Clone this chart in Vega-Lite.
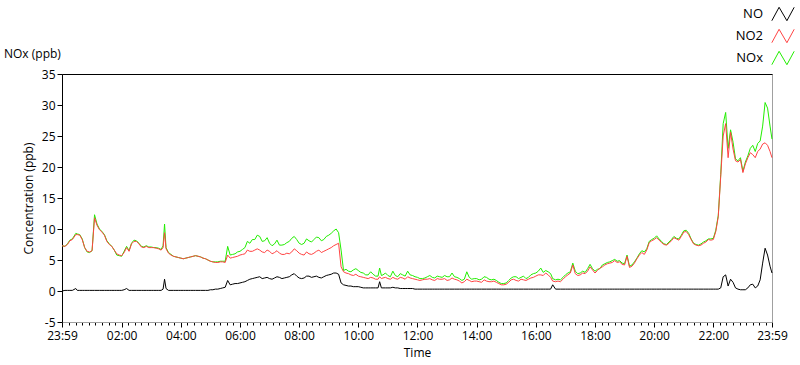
{
  "$schema": "https://vega.github.io/schema/vega-lite/v6.json",
  "width": 710,
  "height": 248,
  "autosize": {"type": "none"},
  "padding": {"left": 62, "top": 74, "right": 28, "bottom": 43},
  "background": "white",
  "title": {"text": "NOx (ppb)", "anchor": "start", "frame": "group", "dx": -58, "offset": -64, "fontSize": 12, "fontWeight": "normal", "font": "Open Sans", "color": "#000000"},
  "config": {
    "view": {"stroke": "#a0a0a0", "strokeWidth": 1},
    "axis": {"labelFont": "Open Sans", "labelFontSize": 12, "labelColor": "#000000", "titleFont": "Open Sans", "titleFontSize": 12, "titleFontWeight": "normal", "titleColor": "#000000", "grid": false, "tickColor": "#000000"},
    "axisY": {"labelOverlap": false, "labelBound": false},
    "legend": {"labelFont": "Open Sans", "labelFontSize": 13, "labelColor": "#000000"}
  },
  "data": {"values": [
    {"t": -0.0167, "NO": 0.0, "NO2": 7.3, "NOx": 7.3},
    {"t": 0.083, "NO": 0.1, "NO2": 7.2, "NOx": 7.2},
    {"t": 0.167, "NO": 0.1, "NO2": 7.5, "NOx": 7.6},
    {"t": 0.25, "NO": 0.1, "NO2": 8.1, "NOx": 8.2},
    {"t": 0.333, "NO": 0.1, "NO2": 8.3, "NOx": 8.4},
    {"t": 0.45, "NO": 0.4, "NO2": 9.1, "NOx": 9.3},
    {"t": 0.5, "NO": 0.1, "NO2": 9.1, "NOx": 9.2},
    {"t": 0.583, "NO": 0.1, "NO2": 9.0, "NOx": 9.1},
    {"t": 0.667, "NO": 0.1, "NO2": 8.3, "NOx": 8.4},
    {"t": 0.75, "NO": 0.1, "NO2": 7.0, "NOx": 7.0},
    {"t": 0.833, "NO": 0.1, "NO2": 6.4, "NOx": 6.3},
    {"t": 0.917, "NO": 0.1, "NO2": 6.3, "NOx": 6.2},
    {"t": 1.0, "NO": 0.1, "NO2": 6.5, "NOx": 6.5},
    {"t": 1.083, "NO": 0.1, "NO2": 11.8, "NOx": 12.3},
    {"t": 1.167, "NO": 0.1, "NO2": 10.6, "NOx": 10.8},
    {"t": 1.25, "NO": 0.1, "NO2": 9.9, "NOx": 10.0},
    {"t": 1.333, "NO": 0.1, "NO2": 9.5, "NOx": 9.6},
    {"t": 1.417, "NO": 0.1, "NO2": 9.0, "NOx": 9.1},
    {"t": 1.5, "NO": 0.1, "NO2": 8.0, "NOx": 8.1},
    {"t": 1.583, "NO": 0.1, "NO2": 7.5, "NOx": 7.6},
    {"t": 1.667, "NO": 0.1, "NO2": 7.2, "NOx": 7.2},
    {"t": 1.75, "NO": 0.1, "NO2": 6.6, "NOx": 6.6},
    {"t": 1.833, "NO": 0.1, "NO2": 6.0, "NOx": 5.8},
    {"t": 1.917, "NO": 0.1, "NO2": 5.8, "NOx": 5.7},
    {"t": 2.0, "NO": 0.1, "NO2": 5.7, "NOx": 5.6},
    {"t": 2.083, "NO": 0.2, "NO2": 6.2, "NOx": 6.4},
    {"t": 2.167, "NO": 0.4, "NO2": 7.0, "NOx": 7.2},
    {"t": 2.25, "NO": 0.1, "NO2": 6.4, "NOx": 6.5},
    {"t": 2.333, "NO": 0.1, "NO2": 7.6, "NOx": 7.7},
    {"t": 2.417, "NO": 0.1, "NO2": 8.0, "NOx": 8.2},
    {"t": 2.5, "NO": 0.1, "NO2": 8.0, "NOx": 8.1},
    {"t": 2.583, "NO": 0.1, "NO2": 7.6, "NOx": 7.7},
    {"t": 2.667, "NO": 0.1, "NO2": 7.1, "NOx": 7.2},
    {"t": 2.75, "NO": 0.1, "NO2": 7.0, "NOx": 7.1},
    {"t": 2.833, "NO": 0.1, "NO2": 7.2, "NOx": 7.3},
    {"t": 2.917, "NO": 0.1, "NO2": 7.0, "NOx": 7.1},
    {"t": 3.0, "NO": 0.1, "NO2": 7.0, "NOx": 7.1},
    {"t": 3.083, "NO": 0.1, "NO2": 7.0, "NOx": 7.0},
    {"t": 3.167, "NO": 0.1, "NO2": 6.9, "NOx": 7.0},
    {"t": 3.25, "NO": 0.1, "NO2": 6.8, "NOx": 6.9},
    {"t": 3.333, "NO": 0.1, "NO2": 6.6, "NOx": 6.7},
    {"t": 3.4, "NO": 0.3, "NO2": 7.0, "NOx": 7.3},
    {"t": 3.45, "NO": 1.9, "NO2": 9.4, "NOx": 10.8},
    {"t": 3.5, "NO": 0.4, "NO2": 6.8, "NOx": 7.0},
    {"t": 3.583, "NO": 0.1, "NO2": 6.1, "NOx": 6.2},
    {"t": 3.667, "NO": 0.1, "NO2": 5.8, "NOx": 5.9},
    {"t": 3.75, "NO": 0.1, "NO2": 5.6, "NOx": 5.6},
    {"t": 3.833, "NO": 0.1, "NO2": 5.5, "NOx": 5.5},
    {"t": 3.917, "NO": 0.1, "NO2": 5.4, "NOx": 5.4},
    {"t": 4.0, "NO": 0.1, "NO2": 5.3, "NOx": 5.3},
    {"t": 4.083, "NO": 0.1, "NO2": 5.2, "NOx": 5.2},
    {"t": 4.167, "NO": 0.1, "NO2": 5.3, "NOx": 5.3},
    {"t": 4.25, "NO": 0.1, "NO2": 5.4, "NOx": 5.4},
    {"t": 4.333, "NO": 0.1, "NO2": 5.5, "NOx": 5.5},
    {"t": 4.417, "NO": 0.1, "NO2": 5.6, "NOx": 5.6},
    {"t": 4.5, "NO": 0.1, "NO2": 5.7, "NOx": 5.7},
    {"t": 4.583, "NO": 0.1, "NO2": 5.6, "NOx": 5.6},
    {"t": 4.667, "NO": 0.1, "NO2": 5.5, "NOx": 5.5},
    {"t": 4.75, "NO": 0.1, "NO2": 5.3, "NOx": 5.3},
    {"t": 4.833, "NO": 0.1, "NO2": 5.2, "NOx": 5.2},
    {"t": 4.917, "NO": 0.1, "NO2": 5.0, "NOx": 5.0},
    {"t": 5.0, "NO": 0.2, "NO2": 4.8, "NOx": 4.8},
    {"t": 5.083, "NO": 0.2, "NO2": 4.7, "NOx": 4.7},
    {"t": 5.167, "NO": 0.3, "NO2": 4.6, "NOx": 4.7},
    {"t": 5.25, "NO": 0.3, "NO2": 4.6, "NOx": 4.7},
    {"t": 5.333, "NO": 0.4, "NO2": 4.7, "NOx": 4.8},
    {"t": 5.417, "NO": 0.5, "NO2": 4.7, "NOx": 4.8},
    {"t": 5.5, "NO": 0.6, "NO2": 4.6, "NOx": 4.8},
    {"t": 5.583, "NO": 1.7, "NO2": 5.8, "NOx": 7.2},
    {"t": 5.667, "NO": 1.0, "NO2": 5.3, "NOx": 5.8},
    {"t": 5.75, "NO": 1.1, "NO2": 5.4, "NOx": 5.9},
    {"t": 5.833, "NO": 1.2, "NO2": 5.5, "NOx": 6.0},
    {"t": 5.917, "NO": 1.2, "NO2": 5.6, "NOx": 6.3},
    {"t": 6.0, "NO": 1.3, "NO2": 5.8, "NOx": 6.4},
    {"t": 6.083, "NO": 1.4, "NO2": 5.9, "NOx": 6.7},
    {"t": 6.167, "NO": 1.5, "NO2": 6.0, "NOx": 7.0},
    {"t": 6.25, "NO": 1.7, "NO2": 6.6, "NOx": 8.0},
    {"t": 6.333, "NO": 1.9, "NO2": 6.4, "NOx": 7.7},
    {"t": 6.417, "NO": 2.0, "NO2": 6.4, "NOx": 8.3},
    {"t": 6.5, "NO": 2.1, "NO2": 6.6, "NOx": 8.3},
    {"t": 6.583, "NO": 2.2, "NO2": 6.8, "NOx": 9.0},
    {"t": 6.667, "NO": 2.3, "NO2": 6.6, "NOx": 8.8},
    {"t": 6.75, "NO": 2.0, "NO2": 6.3, "NOx": 8.0},
    {"t": 6.833, "NO": 2.1, "NO2": 6.2, "NOx": 8.1},
    {"t": 6.917, "NO": 2.2, "NO2": 6.6, "NOx": 8.6},
    {"t": 7.0, "NO": 2.0, "NO2": 6.4, "NOx": 7.7},
    {"t": 7.083, "NO": 1.9, "NO2": 6.0, "NOx": 7.3},
    {"t": 7.167, "NO": 2.1, "NO2": 6.2, "NOx": 7.6},
    {"t": 7.25, "NO": 2.3, "NO2": 6.5, "NOx": 8.2},
    {"t": 7.333, "NO": 2.2, "NO2": 6.1, "NOx": 7.4},
    {"t": 7.417, "NO": 2.0, "NO2": 5.9, "NOx": 7.4},
    {"t": 7.5, "NO": 2.1, "NO2": 5.9, "NOx": 7.5},
    {"t": 7.583, "NO": 2.2, "NO2": 6.1, "NOx": 7.8},
    {"t": 7.667, "NO": 2.3, "NO2": 6.0, "NOx": 8.0},
    {"t": 7.75, "NO": 2.6, "NO2": 6.3, "NOx": 8.5},
    {"t": 7.833, "NO": 2.8, "NO2": 6.8, "NOx": 8.8},
    {"t": 7.917, "NO": 2.4, "NO2": 6.5, "NOx": 8.3},
    {"t": 8.0, "NO": 2.1, "NO2": 6.1, "NOx": 7.7},
    {"t": 8.083, "NO": 2.0, "NO2": 5.9, "NOx": 7.5},
    {"t": 8.167, "NO": 2.1, "NO2": 5.8, "NOx": 7.7},
    {"t": 8.25, "NO": 2.4, "NO2": 6.3, "NOx": 8.4},
    {"t": 8.333, "NO": 2.4, "NO2": 6.0, "NOx": 8.1},
    {"t": 8.417, "NO": 2.2, "NO2": 5.9, "NOx": 7.9},
    {"t": 8.5, "NO": 2.3, "NO2": 6.1, "NOx": 8.3},
    {"t": 8.583, "NO": 2.4, "NO2": 6.4, "NOx": 8.7},
    {"t": 8.667, "NO": 2.2, "NO2": 6.6, "NOx": 8.6},
    {"t": 8.75, "NO": 2.1, "NO2": 6.2, "NOx": 8.1},
    {"t": 8.833, "NO": 2.3, "NO2": 6.4, "NOx": 8.3},
    {"t": 8.917, "NO": 2.5, "NO2": 6.6, "NOx": 8.8},
    {"t": 9.0, "NO": 2.6, "NO2": 6.8, "NOx": 9.0},
    {"t": 9.083, "NO": 2.7, "NO2": 7.0, "NOx": 9.3},
    {"t": 9.167, "NO": 2.9, "NO2": 7.3, "NOx": 9.7},
    {"t": 9.25, "NO": 2.9, "NO2": 7.5, "NOx": 10.0},
    {"t": 9.333, "NO": 2.7, "NO2": 7.7, "NOx": 9.4},
    {"t": 9.417, "NO": 1.3, "NO2": 3.9, "NOx": 6.6},
    {"t": 9.5, "NO": 1.0, "NO2": 3.1, "NOx": 3.3},
    {"t": 9.583, "NO": 0.9, "NO2": 2.9, "NOx": 3.5},
    {"t": 9.667, "NO": 0.8, "NO2": 2.8, "NOx": 3.2},
    {"t": 9.75, "NO": 0.8, "NO2": 2.6, "NOx": 3.1},
    {"t": 9.833, "NO": 0.7, "NO2": 2.5, "NOx": 3.4},
    {"t": 9.917, "NO": 0.7, "NO2": 2.7, "NOx": 3.6},
    {"t": 10.0, "NO": 0.7, "NO2": 2.4, "NOx": 3.3},
    {"t": 10.083, "NO": 0.6, "NO2": 2.3, "NOx": 3.0},
    {"t": 10.167, "NO": 0.5, "NO2": 2.2, "NOx": 2.9},
    {"t": 10.25, "NO": 0.5, "NO2": 2.1, "NOx": 2.6},
    {"t": 10.333, "NO": 0.5, "NO2": 2.0, "NOx": 2.6},
    {"t": 10.417, "NO": 0.5, "NO2": 2.2, "NOx": 3.1},
    {"t": 10.5, "NO": 0.5, "NO2": 2.1, "NOx": 2.7},
    {"t": 10.583, "NO": 0.5, "NO2": 1.9, "NOx": 2.4},
    {"t": 10.667, "NO": 0.5, "NO2": 1.9, "NOx": 2.4},
    {"t": 10.72, "NO": 1.5, "NO2": 2.3, "NOx": 3.7},
    {"t": 10.78, "NO": 0.5, "NO2": 2.0, "NOx": 2.5},
    {"t": 10.833, "NO": 0.5, "NO2": 2.1, "NOx": 2.6},
    {"t": 10.917, "NO": 0.5, "NO2": 2.2, "NOx": 2.9},
    {"t": 11.0, "NO": 0.5, "NO2": 2.0, "NOx": 2.5},
    {"t": 11.083, "NO": 0.5, "NO2": 1.9, "NOx": 2.3},
    {"t": 11.167, "NO": 0.6, "NO2": 2.2, "NOx": 3.2},
    {"t": 11.25, "NO": 0.5, "NO2": 2.0, "NOx": 2.5},
    {"t": 11.333, "NO": 0.5, "NO2": 1.9, "NOx": 2.3},
    {"t": 11.417, "NO": 0.4, "NO2": 2.2, "NOx": 2.8},
    {"t": 11.5, "NO": 0.4, "NO2": 2.1, "NOx": 2.6},
    {"t": 11.583, "NO": 0.4, "NO2": 1.9, "NOx": 2.4},
    {"t": 11.667, "NO": 0.4, "NO2": 2.3, "NOx": 3.2},
    {"t": 11.75, "NO": 0.4, "NO2": 2.1, "NOx": 2.6},
    {"t": 11.833, "NO": 0.4, "NO2": 2.0, "NOx": 2.5},
    {"t": 11.917, "NO": 0.3, "NO2": 1.9, "NOx": 2.3},
    {"t": 12.0, "NO": 0.3, "NO2": 1.8, "NOx": 2.2},
    {"t": 12.083, "NO": 0.3, "NO2": 1.7, "NOx": 2.0},
    {"t": 12.167, "NO": 0.3, "NO2": 1.8, "NOx": 2.0},
    {"t": 12.25, "NO": 0.3, "NO2": 1.9, "NOx": 2.1},
    {"t": 12.333, "NO": 0.3, "NO2": 1.9, "NOx": 2.3},
    {"t": 12.417, "NO": 0.3, "NO2": 2.0, "NOx": 2.5},
    {"t": 12.5, "NO": 0.3, "NO2": 1.8, "NOx": 2.2},
    {"t": 12.583, "NO": 0.3, "NO2": 1.7, "NOx": 2.1},
    {"t": 12.667, "NO": 0.3, "NO2": 2.0, "NOx": 2.4},
    {"t": 12.75, "NO": 0.3, "NO2": 1.9, "NOx": 2.3},
    {"t": 12.833, "NO": 0.3, "NO2": 1.9, "NOx": 2.2},
    {"t": 12.917, "NO": 0.3, "NO2": 2.0, "NOx": 2.5},
    {"t": 13.0, "NO": 0.3, "NO2": 1.7, "NOx": 2.3},
    {"t": 13.083, "NO": 0.3, "NO2": 1.8, "NOx": 2.3},
    {"t": 13.167, "NO": 0.3, "NO2": 2.1, "NOx": 2.9},
    {"t": 13.25, "NO": 0.3, "NO2": 1.9, "NOx": 2.3},
    {"t": 13.333, "NO": 0.3, "NO2": 1.8, "NOx": 2.2},
    {"t": 13.417, "NO": 0.3, "NO2": 1.6, "NOx": 2.0},
    {"t": 13.5, "NO": 0.3, "NO2": 1.3, "NOx": 1.7},
    {"t": 13.583, "NO": 0.3, "NO2": 1.5, "NOx": 1.9},
    {"t": 13.667, "NO": 0.3, "NO2": 1.9, "NOx": 3.1},
    {"t": 13.75, "NO": 0.3, "NO2": 1.7, "NOx": 2.2},
    {"t": 13.833, "NO": 0.3, "NO2": 1.5, "NOx": 1.9},
    {"t": 13.917, "NO": 0.3, "NO2": 1.6, "NOx": 2.0},
    {"t": 14.0, "NO": 0.3, "NO2": 1.6, "NOx": 2.0},
    {"t": 14.083, "NO": 0.3, "NO2": 1.5, "NOx": 1.8},
    {"t": 14.167, "NO": 0.3, "NO2": 1.4, "NOx": 1.9},
    {"t": 14.25, "NO": 0.3, "NO2": 1.8, "NOx": 2.3},
    {"t": 14.333, "NO": 0.3, "NO2": 1.6, "NOx": 2.2},
    {"t": 14.417, "NO": 0.3, "NO2": 1.5, "NOx": 1.9},
    {"t": 14.5, "NO": 0.3, "NO2": 1.5, "NOx": 1.8},
    {"t": 14.583, "NO": 0.3, "NO2": 1.6, "NOx": 1.9},
    {"t": 14.667, "NO": 0.3, "NO2": 1.4, "NOx": 1.7},
    {"t": 14.75, "NO": 0.3, "NO2": 1.2, "NOx": 1.4},
    {"t": 14.833, "NO": 0.3, "NO2": 1.0, "NOx": 1.2},
    {"t": 14.917, "NO": 0.3, "NO2": 1.0, "NOx": 1.2},
    {"t": 15.0, "NO": 0.3, "NO2": 1.1, "NOx": 1.3},
    {"t": 15.083, "NO": 0.3, "NO2": 1.4, "NOx": 1.7},
    {"t": 15.167, "NO": 0.3, "NO2": 1.8, "NOx": 2.1},
    {"t": 15.25, "NO": 0.3, "NO2": 1.9, "NOx": 2.3},
    {"t": 15.333, "NO": 0.3, "NO2": 1.7, "NOx": 2.3},
    {"t": 15.417, "NO": 0.3, "NO2": 1.6, "NOx": 2.0},
    {"t": 15.5, "NO": 0.3, "NO2": 1.9, "NOx": 2.2},
    {"t": 15.583, "NO": 0.3, "NO2": 1.8, "NOx": 2.4},
    {"t": 15.667, "NO": 0.3, "NO2": 1.7, "NOx": 2.0},
    {"t": 15.75, "NO": 0.3, "NO2": 1.9, "NOx": 2.2},
    {"t": 15.833, "NO": 0.3, "NO2": 2.1, "NOx": 2.6},
    {"t": 15.917, "NO": 0.3, "NO2": 2.2, "NOx": 2.8},
    {"t": 16.0, "NO": 0.3, "NO2": 2.4, "NOx": 2.9},
    {"t": 16.083, "NO": 0.3, "NO2": 2.6, "NOx": 3.2},
    {"t": 16.167, "NO": 0.3, "NO2": 2.6, "NOx": 3.7},
    {"t": 16.25, "NO": 0.3, "NO2": 2.5, "NOx": 3.0},
    {"t": 16.333, "NO": 0.3, "NO2": 2.9, "NOx": 3.3},
    {"t": 16.417, "NO": 0.3, "NO2": 2.6, "NOx": 3.1},
    {"t": 16.5, "NO": 0.3, "NO2": 2.2, "NOx": 2.8},
    {"t": 16.57, "NO": 1.0, "NO2": 1.6, "NOx": 2.0},
    {"t": 16.667, "NO": 0.3, "NO2": 1.5, "NOx": 1.8},
    {"t": 16.75, "NO": 0.3, "NO2": 1.6, "NOx": 1.9},
    {"t": 16.833, "NO": 0.3, "NO2": 1.5, "NOx": 1.8},
    {"t": 16.917, "NO": 0.3, "NO2": 1.9, "NOx": 2.2},
    {"t": 17.0, "NO": 0.3, "NO2": 2.3, "NOx": 2.6},
    {"t": 17.083, "NO": 0.3, "NO2": 2.6, "NOx": 2.9},
    {"t": 17.167, "NO": 0.3, "NO2": 2.9, "NOx": 3.1},
    {"t": 17.25, "NO": 0.3, "NO2": 4.2, "NOx": 4.5},
    {"t": 17.333, "NO": 0.3, "NO2": 2.8, "NOx": 3.2},
    {"t": 17.417, "NO": 0.3, "NO2": 2.5, "NOx": 2.8},
    {"t": 17.5, "NO": 0.3, "NO2": 2.6, "NOx": 2.9},
    {"t": 17.583, "NO": 0.3, "NO2": 2.9, "NOx": 3.2},
    {"t": 17.667, "NO": 0.3, "NO2": 2.8, "NOx": 3.0},
    {"t": 17.75, "NO": 0.3, "NO2": 3.2, "NOx": 3.6},
    {"t": 17.833, "NO": 0.3, "NO2": 3.9, "NOx": 4.3},
    {"t": 17.917, "NO": 0.3, "NO2": 3.4, "NOx": 3.6},
    {"t": 18.0, "NO": 0.3, "NO2": 2.9, "NOx": 3.2},
    {"t": 18.083, "NO": 0.3, "NO2": 3.3, "NOx": 3.5},
    {"t": 18.167, "NO": 0.3, "NO2": 3.7, "NOx": 3.6},
    {"t": 18.25, "NO": 0.3, "NO2": 3.9, "NOx": 4.2},
    {"t": 18.333, "NO": 0.3, "NO2": 4.2, "NOx": 4.4},
    {"t": 18.417, "NO": 0.3, "NO2": 4.4, "NOx": 4.6},
    {"t": 18.5, "NO": 0.3, "NO2": 4.5, "NOx": 4.7},
    {"t": 18.583, "NO": 0.3, "NO2": 4.6, "NOx": 4.9},
    {"t": 18.667, "NO": 0.3, "NO2": 4.9, "NOx": 5.1},
    {"t": 18.75, "NO": 0.3, "NO2": 4.6, "NOx": 4.8},
    {"t": 18.833, "NO": 0.3, "NO2": 4.7, "NOx": 4.9},
    {"t": 18.917, "NO": 0.3, "NO2": 4.3, "NOx": 4.5},
    {"t": 19.0, "NO": 0.3, "NO2": 4.2, "NOx": 4.4},
    {"t": 19.083, "NO": 0.3, "NO2": 5.6, "NOx": 5.8},
    {"t": 19.167, "NO": 0.3, "NO2": 3.8, "NOx": 4.0},
    {"t": 19.25, "NO": 0.3, "NO2": 4.0, "NOx": 4.2},
    {"t": 19.333, "NO": 0.3, "NO2": 4.5, "NOx": 4.7},
    {"t": 19.417, "NO": 0.3, "NO2": 5.2, "NOx": 5.3},
    {"t": 19.5, "NO": 0.3, "NO2": 5.8, "NOx": 6.0},
    {"t": 19.583, "NO": 0.3, "NO2": 6.2, "NOx": 6.5},
    {"t": 19.667, "NO": 0.3, "NO2": 5.9, "NOx": 6.3},
    {"t": 19.75, "NO": 0.3, "NO2": 6.6, "NOx": 6.8},
    {"t": 19.833, "NO": 0.3, "NO2": 7.8, "NOx": 8.0},
    {"t": 19.917, "NO": 0.3, "NO2": 8.1, "NOx": 8.3},
    {"t": 20.0, "NO": 0.3, "NO2": 8.3, "NOx": 8.5},
    {"t": 20.083, "NO": 0.3, "NO2": 8.6, "NOx": 8.9},
    {"t": 20.167, "NO": 0.3, "NO2": 8.2, "NOx": 8.4},
    {"t": 20.25, "NO": 0.3, "NO2": 7.8, "NOx": 8.0},
    {"t": 20.333, "NO": 0.3, "NO2": 7.5, "NOx": 7.6},
    {"t": 20.417, "NO": 0.3, "NO2": 7.4, "NOx": 7.5},
    {"t": 20.5, "NO": 0.3, "NO2": 7.7, "NOx": 7.9},
    {"t": 20.583, "NO": 0.3, "NO2": 8.1, "NOx": 8.3},
    {"t": 20.667, "NO": 0.3, "NO2": 8.6, "NOx": 8.8},
    {"t": 20.75, "NO": 0.3, "NO2": 8.4, "NOx": 8.5},
    {"t": 20.833, "NO": 0.3, "NO2": 8.2, "NOx": 8.4},
    {"t": 20.917, "NO": 0.3, "NO2": 8.8, "NOx": 9.0},
    {"t": 21.0, "NO": 0.3, "NO2": 9.5, "NOx": 9.7},
    {"t": 21.083, "NO": 0.3, "NO2": 9.6, "NOx": 9.8},
    {"t": 21.167, "NO": 0.3, "NO2": 9.1, "NOx": 9.3},
    {"t": 21.25, "NO": 0.3, "NO2": 8.3, "NOx": 8.4},
    {"t": 21.333, "NO": 0.3, "NO2": 7.6, "NOx": 7.7},
    {"t": 21.417, "NO": 0.3, "NO2": 7.4, "NOx": 7.5},
    {"t": 21.5, "NO": 0.3, "NO2": 7.3, "NOx": 7.4},
    {"t": 21.583, "NO": 0.3, "NO2": 7.4, "NOx": 7.6},
    {"t": 21.667, "NO": 0.3, "NO2": 7.7, "NOx": 7.9},
    {"t": 21.75, "NO": 0.3, "NO2": 7.9, "NOx": 8.1},
    {"t": 21.833, "NO": 0.3, "NO2": 8.3, "NOx": 8.4},
    {"t": 21.917, "NO": 0.3, "NO2": 8.2, "NOx": 8.4},
    {"t": 22.0, "NO": 0.3, "NO2": 8.3, "NOx": 8.5},
    {"t": 22.083, "NO": 0.3, "NO2": 9.6, "NOx": 9.8},
    {"t": 22.167, "NO": 0.3, "NO2": 12.0, "NOx": 12.2},
    {"t": 22.25, "NO": 0.5, "NO2": 18.5, "NOx": 18.8},
    {"t": 22.333, "NO": 2.3, "NO2": 25.0, "NOx": 27.0},
    {"t": 22.417, "NO": 2.6, "NO2": 27.0, "NOx": 28.8},
    {"t": 22.5, "NO": 0.8, "NO2": 21.5, "NOx": 23.0},
    {"t": 22.583, "NO": 1.9, "NO2": 25.6, "NOx": 26.0},
    {"t": 22.667, "NO": 1.4, "NO2": 22.9, "NOx": 24.0},
    {"t": 22.75, "NO": 0.5, "NO2": 21.0, "NOx": 21.3},
    {"t": 22.833, "NO": 0.3, "NO2": 20.8, "NOx": 21.0},
    {"t": 22.917, "NO": 0.2, "NO2": 21.2, "NOx": 21.5},
    {"t": 23.0, "NO": 0.2, "NO2": 19.1, "NOx": 19.3},
    {"t": 23.083, "NO": 0.2, "NO2": 20.5, "NOx": 20.8},
    {"t": 23.167, "NO": 0.5, "NO2": 21.5, "NOx": 21.8},
    {"t": 23.25, "NO": 1.0, "NO2": 22.3, "NOx": 23.0},
    {"t": 23.333, "NO": 1.1, "NO2": 22.0, "NOx": 23.5},
    {"t": 23.417, "NO": 0.5, "NO2": 21.5, "NOx": 22.5},
    {"t": 23.5, "NO": 0.8, "NO2": 22.5, "NOx": 23.8},
    {"t": 23.583, "NO": 1.8, "NO2": 22.9, "NOx": 24.2},
    {"t": 23.667, "NO": 4.5, "NO2": 23.7, "NOx": 26.6},
    {"t": 23.75, "NO": 6.9, "NO2": 23.9, "NOx": 30.4},
    {"t": 23.833, "NO": 5.8, "NO2": 23.5, "NOx": 29.5},
    {"t": 23.917, "NO": 4.0, "NO2": 22.5, "NOx": 26.6},
    {"t": 23.983, "NO": 2.9, "NO2": 21.5, "NOx": 24.5}
  ]},
  "resolve": {"axis": {"x": "independent"}},
  "layer": [
    {
      "mark": {"type": "line", "strokeWidth": 1},
      "encoding": {
        "x": {"field": "t", "type": "quantitative",
          "scale": {"domain": [-0.0167, 23.9833], "nice": false, "zero": false},
          "axis": {"title": "Time", "orient": "bottom", "domainColor": "#a0a0a0", "tickColor": "#000000", "labelPadding": 3, "titlePadding": 6, "labelOverlap": false, "labelFlush": false,
            "values": [-0.0167, 0.2222, 0.4444, 0.6667, 0.8889, 1.1111, 1.3333, 1.5556, 1.7778, 2, 2.2222, 2.4444, 2.6667, 2.8889, 3.1111, 3.3333, 3.5556, 3.7778, 4, 4.2222, 4.4444, 4.6667, 4.8889, 5.1111, 5.3333, 5.5556, 5.7778, 6, 6.2222, 6.4444, 6.6667, 6.8889, 7.1111, 7.3333, 7.5556, 7.7778, 8, 8.2222, 8.4444, 8.6667, 8.8889, 9.1111, 9.3333, 9.5556, 9.7778, 10, 10.2222, 10.4444, 10.6667, 10.8889, 11.1111, 11.3333, 11.5556, 11.7778, 12, 12.2222, 12.4444, 12.6667, 12.8889, 13.1111, 13.3333, 13.5556, 13.7778, 14, 14.2222, 14.4444, 14.6667, 14.8889, 15.1111, 15.3333, 15.5556, 15.7778, 16, 16.2222, 16.4444, 16.6667, 16.8889, 17.1111, 17.3333, 17.5556, 17.7778, 18, 18.2222, 18.4444, 18.6667, 18.8889, 19.1111, 19.3333, 19.5556, 19.7778, 20, 20.2222, 20.4444, 20.6667, 20.8889, 21.1111, 21.3333, 21.5556, 21.7778, 22, 22.2222, 22.4444, 22.6667, 22.8889, 23.1111, 23.3333, 23.5556, 23.7778, 23.9833],
            "labelExpr": "datum.value < 0 || datum.value > 23.9 ? '23:59' : (abs(datum.value - 2*round(datum.value/2)) < 0.001 ? (datum.value < 10 ? '0' : '') + datum.value + ':00' : '')",
            "tickSize": {"condition": {"test": "datum.value < 0 || datum.value > 23.9 || abs(datum.value - 2*round(datum.value/2)) < 0.001", "value": 5}, "value": 3}
          }},
        "y": {"field": "NOx", "type": "quantitative", "title": "Concentration (ppb)",
          "scale": {"domain": [-5, 35], "nice": false, "zero": false},
          "axis": {"values": [-5, 0, 5, 10, 15, 20, 25, 30, 35], "labelOverlap": false, "labelExpr": "'' + datum.value", "domainColor": "#000000", "tickColor": "#000000", "tickSize": 5, "labelPadding": 2, "titlePadding": 6}},
        "color": {"datum": "NOx", "type": "nominal",
          "scale": {"domain": ["NO", "NO2", "NOx"], "range": ["#000000", "#ff4343", "#22ee00"]},
          "legend": {"orient": "none", "legendX": 704, "legendY": -77, "title": null, "direction": "vertical",
            "symbolType": "M-1,0.6L-0.35,-0.6L0.35,0.6L1,-0.6", "symbolSize": 500, "symbolStrokeWidth": 1, "symbolFillColor": "transparent",
            "labelAlign": "right", "labelOffset": -32, "rowPadding": 1, "padding": 5}}
      }
    },
    {
      "mark": {"type": "line", "strokeWidth": 1},
      "encoding": {
        "x": {"field": "t", "type": "quantitative",
          "axis": {"orient": "top", "title": null, "labels": false, "ticks": false, "domainColor": "#000000"}},
        "y": {"field": "NO2", "type": "quantitative", "title": "Concentration (ppb)",
          "axis": {"values": [-5, 0, 5, 10, 15, 20, 25, 30, 35], "labelOverlap": false, "labelExpr": "'' + datum.value", "domainColor": "#000000", "tickColor": "#000000", "tickSize": 5, "labelPadding": 2, "titlePadding": 6}},
        "color": {"datum": "NO2", "type": "nominal"}
      }
    },
    {
      "mark": {"type": "line", "strokeWidth": 1},
      "encoding": {
        "x": {"field": "t", "type": "quantitative", "axis": null},
        "y": {"field": "NO", "type": "quantitative", "title": "Concentration (ppb)",
          "axis": {"values": [-5, 0, 5, 10, 15, 20, 25, 30, 35], "labelOverlap": false, "labelExpr": "'' + datum.value", "domainColor": "#000000", "tickColor": "#000000", "tickSize": 5, "labelPadding": 2, "titlePadding": 6}},
        "color": {"datum": "NO", "type": "nominal"}
      }
    }
  ]
}
